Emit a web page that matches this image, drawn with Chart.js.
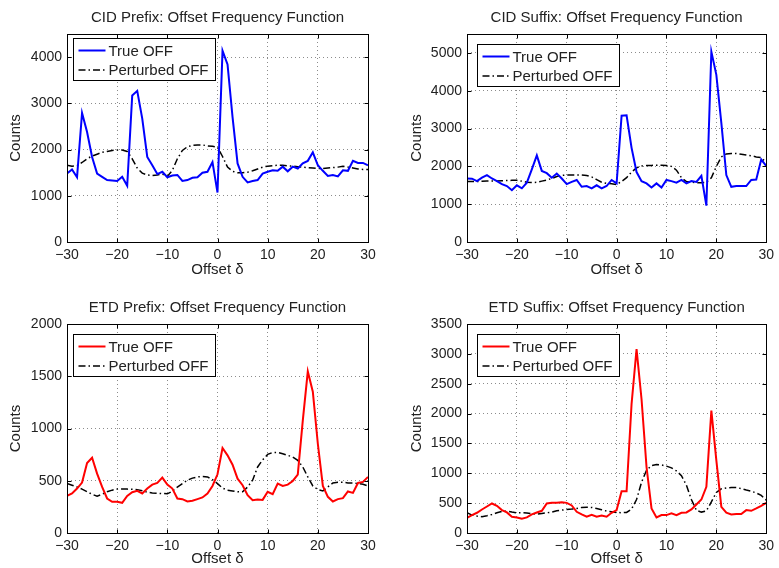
<!DOCTYPE html>
<html>
<head>
<meta charset="utf-8">
<script src="https://cdn.jsdelivr.net/npm/chart.js@4.4.1/dist/chart.umd.min.js"></script>
<style>
  body { margin: 0; background: #fff; }
  #wrap { position: relative; width: 779px; height: 568px; }
  canvas { position: absolute; }
</style>
</head>
<body>
<div id="wrap">
  <canvas id="c1" width="389" height="284" style="left:0;top:0"></canvas>
  <canvas id="c2" width="390" height="284" style="left:389px;top:0"></canvas>
  <canvas id="c3" width="389" height="284" style="left:0;top:284px"></canvas>
  <canvas id="c4" width="390" height="284" style="left:389px;top:284px"></canvas>
</div>
<script>
// offset delta, -30 .. 30
const offsets = [-30,-29,-28,-27,-26,-25,-24,-23,-22,-21,-20,-19,-18,-17,-16,-15,-14,-13,-12,-11,
  -10,-9,-8,-7,-6,-5,-4,-3,-2,-1,0,1,2,3,4,5,6,7,8,9,10,11,12,13,14,15,16,17,18,19,20,
  21,22,23,24,25,26,27,28,29,30];

const xTicks = [-30, -20, -10, 0, 10, 20, 30];
const cidPrefixTicks = [0, 1000, 2000, 3000, 4000];
const cidSuffixTicks = [0, 1000, 2000, 3000, 4000, 5000];
const etdPrefixTicks = [0, 500, 1000, 1500, 2000];
const etdSuffixTicks = [0, 500, 1000, 1500, 2000, 2500, 3000, 3500];

const cidPrefixTrue = [1480,1570,1400,2790,2380,1840,1480,1410,1340,1330,
  1320,1410,1215,3170,3270,2670,1840,1660,1470,1520,
  1400,1440,1450,1320,1340,1390,1400,1500,1520,1730,
  1070,
  4140,3840,2700,1700,1410,1290,1320,1340,1480,1520,
  1550,1540,1630,1530,1630,1590,1700,1755,1940,1660,
  1540,1430,1450,1420,1550,1540,1755,1710,1710,1660];
const cidPrefixPert = [1660,1640,1650,1720,1800,1860,1900,1940,1960,1980,
  1990,1990,1960,1800,1600,1490,1450,1440,1450,1470,
  1420,1550,1800,1980,2060,2090,2100,2100,2080,2070,
  2050,
  1850,1620,1530,1500,1500,1510,1540,1580,1620,1640,
  1650,1660,1660,1650,1640,1630,1620,1610,1600,1590,
  1590,1600,1610,1620,1640,1620,1600,1580,1570,1570];

const cidSuffixTrue = [1680,1675,1610,1700,1770,1680,1610,1530,1480,1370,
  1500,1420,1570,1920,2290,1880,1820,1700,1810,1680,
  1530,1590,1640,1460,1480,1420,1500,1420,1480,1640,
  1550,
  3340,3350,2490,1850,1610,1550,1440,1550,1440,1640,
  1610,1570,1640,1550,1610,1590,1750,960,5035,4420,
  3150,1770,1460,1480,1480,1480,1640,1650,2180,2010];
const cidSuffixPert = [1600,1600,1600,1605,1610,1610,1615,1620,1625,1630,
  1630,1610,1580,1570,1580,1610,1640,1680,1730,1760,
  1770,1770,1770,1770,1760,1720,1650,1580,1550,1540,
  1520,
  1600,1700,1850,1960,2010,2020,2025,2030,2030,2020,
  2000,1900,1700,1600,1580,1570,1570,1580,1700,2000,
  2250,2330,2340,2340,2320,2300,2280,2250,2230,2100];

const etdPrefixTrue = [355,378,425,483,670,720,568,441,330,298,
  298,289,355,390,403,378,425,463,479,530,
  463,425,330,324,302,308,324,340,378,450,
  562,
  813,743,654,520,457,362,314,320,317,394,
  371,473,450,463,498,559,1076,1546,1352,854,
  450,346,302,324,333,397,384,479,489,537];
const etdPrefixPert = [473,457,440,420,395,370,352,370,395,410,
  420,422,420,418,415,405,390,383,380,378,
  375,400,440,473,505,525,537,540,537,510,
  473,
  430,410,403,395,395,440,505,632,700,752,
  771,771,759,743,727,695,632,537,450,416,
  403,441,479,486,486,479,479,473,467,450];

const etdSuffixTrue = [255,300,339,394,444,494,455,383,344,272,
  261,239,261,311,344,372,494,505,505,516,
  505,461,355,311,272,305,272,294,272,339,
  383,
  700,700,2160,3080,2240,1105,411,261,300,300,
  328,300,339,344,394,478,561,772,2050,1217,
  439,339,311,317,317,383,372,411,455,505];
const etdSuffixPert = [339,300,283,272,289,311,339,361,367,350,
  339,339,333,322,317,328,339,350,372,383,
  394,400,411,428,433,428,411,389,367,355,
  344,
  339,345,400,560,850,1050,1130,1145,1140,1120,
  1090,1040,960,800,560,380,350,370,520,680,
  740,755,760,760,745,720,700,670,630,550];

const FONT = "'Liberation Sans', Arial, Helvetica, sans-serif";
const TEXT = '#222';
Chart.defaults.font.family = FONT;
Chart.defaults.color = TEXT;

function toPoints(vals) {
  return offsets.map((d, i) => ({ x: d, y: vals[i] }));
}

// MATLAB-style legend box inside the plot
const boxLegend = {
  id: 'boxLegend',
  afterDatasetsDraw(chart, args, opts) {
    const { ctx, chartArea: a } = chart;
    const sets = chart.data.datasets;
    ctx.save();
    ctx.font = '15px ' + FONT;
    const tw = Math.max(...sets.map(d => ctx.measureText(d.label).width));
    const x0 = Math.round(a.left + opts.dx) + 0.5;
    const y0 = Math.round(a.top + opts.dy) + 0.5;
    const w = Math.round(5 + 27 + 3 + tw + 7);
    const h = 42;
    ctx.fillStyle = '#fff';
    ctx.fillRect(x0, y0, w, h);
    ctx.strokeStyle = '#000';
    ctx.lineWidth = 1;
    ctx.strokeRect(x0, y0, w, h);
    sets.forEach((d, i) => {
      const cy = y0 + 12 + i * 19.5;
      ctx.beginPath();
      ctx.strokeStyle = d.borderColor;
      ctx.lineWidth = d.borderWidth;
      ctx.setLineDash(d.borderDash || []);
      ctx.moveTo(x0 + 5, cy);
      ctx.lineTo(x0 + 32, cy);
      ctx.stroke();
      ctx.setLineDash([]);
      ctx.fillStyle = TEXT;
      ctx.textBaseline = 'middle';
      ctx.fillText(d.label, x0 + 35, cy + 1);
    });
    ctx.restore();
  }
};

// full axes box with inward tick marks on all four sides
const boxTicks = {
  id: 'boxTicks',
  afterDraw(chart) {
    const { ctx, chartArea: a, scales: { x, y } } = chart;
    const L = Math.round(a.left) + 0.5, R = Math.round(a.right) + 0.5;
    const T = Math.round(a.top) + 0.5, B = Math.round(a.bottom) + 0.5;
    ctx.save();
    ctx.strokeStyle = '#000';
    ctx.lineWidth = 1;
    ctx.beginPath();
    x.ticks.forEach(t => {
      const px = Math.round(x.getPixelForValue(t.value)) + 0.5;
      ctx.moveTo(px, B); ctx.lineTo(px, B - 4);
      ctx.moveTo(px, T); ctx.lineTo(px, T + 4);
    });
    y.ticks.forEach(t => {
      const py = Math.round(y.getPixelForValue(t.value)) + 0.5;
      ctx.moveTo(L, py); ctx.lineTo(L + 4, py);
      ctx.moveTo(R, py); ctx.lineTo(R - 4, py);
    });
    ctx.stroke();
    ctx.strokeRect(L, T, R - L, B - T);
    ctx.restore();
  }
};

function makeChart(id, p) {
  const gridColor = 'rgba(0,0,0,0.45)';
  return new Chart(document.getElementById(id), {
    type: 'line',
    data: {
      datasets: [
        { label: 'True OFF', data: toPoints(p.trueVals), borderColor: p.color, borderWidth: 2 },
        { label: 'Perturbed OFF', data: toPoints(p.pertVals), borderColor: '#000',
          borderWidth: 1.5, borderDash: [7, 3, 1.5, 3] }
      ]
    },
    options: {
      responsive: false,
      animation: false,
      events: [],
      elements: { point: { radius: 0 }, line: { tension: 0 } },
      layout: { padding: { left: 0, right: p.padRight, top: 0, bottom: 0 } },
      plugins: {
        legend: { display: false },
        tooltip: { enabled: false },
        title: {
          display: true, text: p.title, fullSize: false, color: TEXT,
          font: { size: 15, weight: 'normal' },
          padding: { top: p.titleTop, bottom: 7 }
        },
        boxLegend: { dx: p.legDx, dy: p.legDy }
      },
      scales: {
        x: {
          type: 'linear', min: -30, max: 30,
          afterBuildTicks: s => { s.ticks = xTicks.map(v => ({ value: v })); },
          afterFit: s => { s.height = p.xHeight; },
          ticks: {
            padding: 5, maxRotation: 0, autoSkip: false,
            color: TEXT, font: { size: 14 },
            callback: v => (v < 0 ? '\u2212' + Math.abs(v) : String(v))
          },
          grid: { color: gridColor, drawTicks: false },
          border: { display: false, dash: [1, 3] },
          title: {
            display: true, text: 'Offset \u03b4', color: TEXT, font: { size: 15 },
            padding: { top: 0, bottom: p.xTitleBottom }
          }
        },
        y: {
          min: 0, max: p.yMax,
          afterBuildTicks: s => { s.ticks = p.yTicks.map(v => ({ value: v })); },
          afterFit: s => { s.width = p.yWidth; },
          ticks: { padding: 5, autoSkip: false, color: TEXT, font: { size: 14 }, callback: v => String(v) },
          grid: { color: gridColor, drawTicks: false },
          border: { display: false, dash: [1, 3] },
          title: {
            display: true, text: 'Counts', color: TEXT, font: { size: 15 },
            padding: { top: p.yTitleTop, bottom: 0 }
          }
        }
      }
    },
    plugins: [boxLegend, boxTicks]
  });
}

makeChart('c1', {
  title: 'CID Prefix: Offset Frequency Function', color: '#0000ff',
  trueVals: cidPrefixTrue, pertVals: cidPrefixPert, yMax: 4500, yTicks: cidPrefixTicks,
  yWidth: 67, padRight: 21, xHeight: 42, titleTop: 9, xTitleBottom: 5, yTitleTop: 7,
  legDx: 6, legDy: 4
});
makeChart('c2', {
  title: 'CID Suffix: Offset Frequency Function', color: '#0000ff',
  trueVals: cidSuffixTrue, pertVals: cidSuffixPert, yMax: 5500, yTicks: cidSuffixTicks,
  yWidth: 78, padRight: 10, xHeight: 42, titleTop: 9, xTitleBottom: 5, yTitleTop: 19,
  legDx: 10, legDy: 10
});
makeChart('c3', {
  title: 'ETD Prefix: Offset Frequency Function', color: '#ff0000',
  trueVals: etdPrefixTrue, pertVals: etdPrefixPert, yMax: 2000, yTicks: etdPrefixTicks,
  yWidth: 67, padRight: 21, xHeight: 35, titleTop: 15, xTitleBottom: 0, yTitleTop: 7,
  legDx: 6, legDy: 10
});
makeChart('c4', {
  title: 'ETD Suffix: Offset Frequency Function', color: '#ff0000',
  trueVals: etdSuffixTrue, pertVals: etdSuffixPert, yMax: 3500, yTicks: etdSuffixTicks,
  yWidth: 78, padRight: 10, xHeight: 35, titleTop: 15, xTitleBottom: 0, yTitleTop: 19,
  legDx: 10, legDy: 10
});
</script>
</body>
</html>
